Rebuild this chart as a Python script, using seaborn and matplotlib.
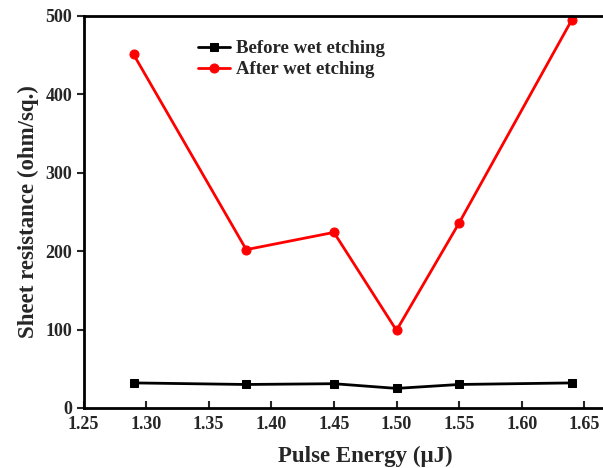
import matplotlib
matplotlib.use("Agg")
import matplotlib.pyplot as plt
import seaborn as sns
import pandas as pd

pulse_energy = [1.29, 1.38, 1.45, 1.50, 1.55, 1.64]
before_etch = [32, 30, 31, 25, 30, 32]
after_etch = [451, 202, 224, 99, 236, 495]
x_ticks = [1.25, 1.30, 1.35, 1.40, 1.45, 1.50, 1.55, 1.60, 1.65]
y_ticks = [0, 100, 200, 300, 400, 500]

sns.set_theme(style="white")
plt.rcParams['font.family'] = ['Liberation Serif', 'DejaVu Serif']
plt.rcParams['font.weight'] = 'bold'

W, H = 603, 468
fig = plt.figure(figsize=(W / 100, H / 100), dpi=100)
left_px, right_px_lim = 83.5, 83.5 + 0.45 / 0.05 * 62.6
top_px, bottom_px = 16, 408
ax = fig.add_axes([left_px / W, (H - bottom_px) / H, (right_px_lim - left_px) / W, (bottom_px - top_px) / H])

df_b = pd.DataFrame({"x": pulse_energy, "y": before_etch})
df_a = pd.DataFrame({"x": pulse_energy, "y": after_etch})
sns.lineplot(data=df_b, x="x", y="y", ax=ax, color="black", marker="s", markersize=5.5,
             markeredgecolor="black", linewidth=2, label="Before wet etching", clip_on=False)
sns.lineplot(data=df_a, x="x", y="y", ax=ax, color="#ff0000", marker="o", markersize=6.5,
             markeredgecolor="#ff0000", linewidth=2, label="After wet etching", clip_on=False)

ax.set_xlim(1.25, 1.70)
ax.set_ylim(0, 500)
ax.set_xticks(x_ticks)
ax.set_xticklabels([f"{v:.2f}" for v in x_ticks])
ax.set_yticks(y_ticks)
ax.set_yticklabels([str(v) for v in y_ticks])
ax.tick_params(axis="x", direction="in", length=5, width=1.5, labelsize=13, pad=6, bottom=True)
ax.tick_params(axis="y", direction="out", length=5, width=1.5, labelsize=13, pad=3, left=True)
for lbl in ax.get_xticklabels() + ax.get_yticklabels():
    lbl.set_fontweight("bold")
for s in ax.spines.values():
    s.set_color("black")
    s.set_linewidth(2)

ax.set_xlabel("Pulse Energy (μJ)", fontsize=16.5, fontweight="bold", labelpad=9)
ax.set_ylabel("Sheet resistance (ohm/sq.)", fontsize=16.5, fontweight="bold", labelpad=5)

leg = ax.legend(loc="upper left", bbox_to_anchor=(0.19, 0.958), frameon=False,
                prop={"weight": "bold", "size": 13.5}, handlelength=1.7, handletextpad=0.3,
                labelspacing=0.22, borderaxespad=0)

fig.savefig("out.png", dpi=100)
